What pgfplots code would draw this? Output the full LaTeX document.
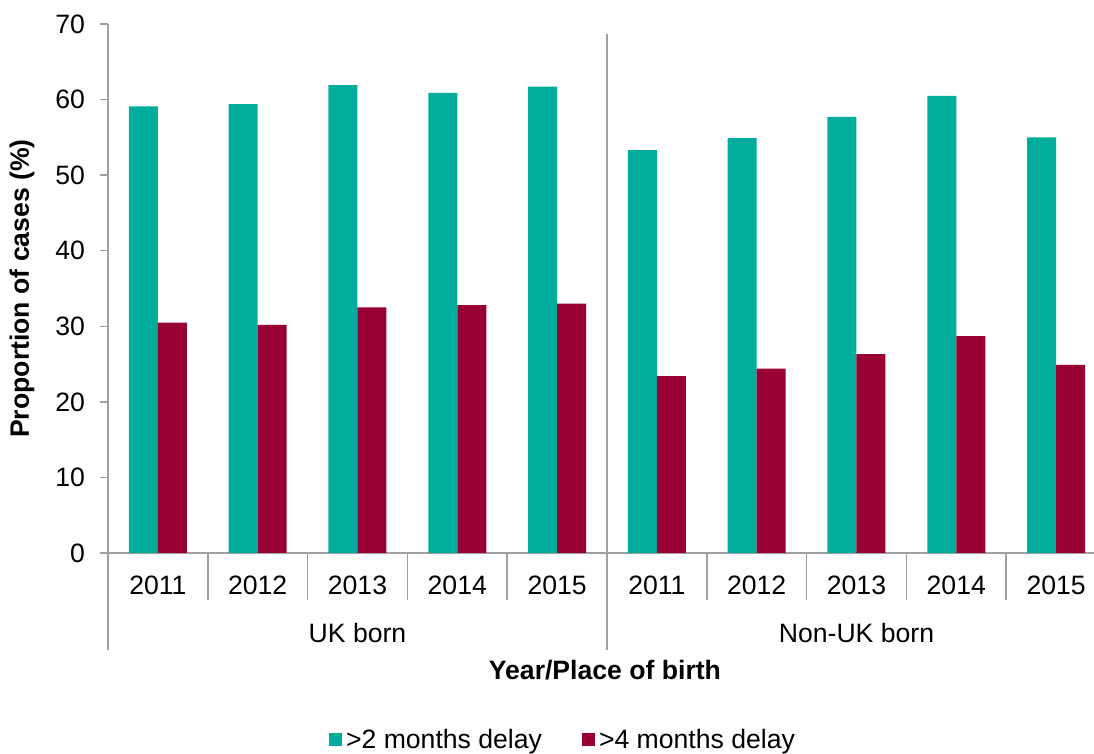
\documentclass[border=0pt]{standalone}
\usepackage{fontspec}
\setmainfont{Liberation Sans}
\usepackage{pgfplots}
\pgfplotsset{compat=1.18}
\definecolor{tealc}{RGB}{0,173,157}
\definecolor{winec}{RGB}{153,0,51}
\definecolor{axgray}{RGB}{160,160,160}
\begin{document}
\begin{tikzpicture}[font=\fontsize{13.3}{16}\selectfont]
\clip (-54pt,-100.5pt) rectangle (493pt,276.5pt);
\begin{axis}[
  at={(0,0)}, anchor=south west,
  scale only axis, width=493pt, height=264.5pt,
  xmin=-0.5, xmax=9.38, ymin=0, ymax=70,
  clip=false,
  ybar=0pt, bar width=14.5pt,
  axis lines*=left,
  axis line style={axgray, line width=0.75pt},
  ytick={0,10,...,70},
  tick align=outside, major tick length=4pt,
  y tick style={axgray, line width=0.75pt},
  xtick={0,...,9},
  xticklabels={2011,2012,2013,2014,2015,2011,2012,2013,2014,2015},
  x tick style={draw=none},
  xticklabel style={anchor=center, yshift=-12pt},
  /pgf/number format/assume math mode=true,
  yticklabel style={anchor=east, xshift=-4pt},
  ylabel={\textbf{Proportion of cases (\%)}},
  ylabel style={at={(axis description cs:-0.0872,0.5)}, anchor=center},
  xlabel={\textbf{Year/Place of birth}},
  xlabel style={at={(axis description cs:0.504,-0.2212)}, anchor=center},
  legend style={at={(0.4625,-0.3535)}, anchor=center, draw=none, legend columns=2,
    /tikz/every even column/.append style={column sep=18pt}, inner sep=0pt},
  legend image code/.code={\draw[#1,draw=none] (0pt,-3.25pt) rectangle (6.5pt,3.25pt);},
]
\addplot[fill=tealc, draw=none] coordinates {(0,59.1) (1,59.4) (2,61.9) (3,60.9) (4,61.7) (5,53.3) (6,54.9) (7,57.7) (8,60.5) (9,55.0)};
\addplot[fill=winec, draw=none] coordinates {(0,30.5) (1,30.2) (2,32.5) (3,32.8) (4,33.0) (5,23.4) (6,24.4) (7,26.3) (8,28.7) (9,24.9)};
\legend{>2 months delay, >4 months delay}
\pgfplotsinvokeforeach{0.5,1.5,2.5,3.5,5.5,6.5,7.5,8.5}{
  \draw[axgray, line width=0.75pt] (axis cs:#1,0) -- ++(0pt,-23.5pt);
}
\draw[axgray, line width=0.75pt] (axis cs:-0.5,0) -- ++(0pt,-48.5pt);
\draw[axgray, line width=0.75pt] (axis cs:4.5,68.7) -- (axis cs:4.5,0) -- ++(0pt,-48.5pt);
\node at (axis cs:2,0) [yshift=-40pt] {UK born};
\node at (axis cs:7,0) [yshift=-40pt] {Non-UK born};
\end{axis}
\end{tikzpicture}
\end{document}
